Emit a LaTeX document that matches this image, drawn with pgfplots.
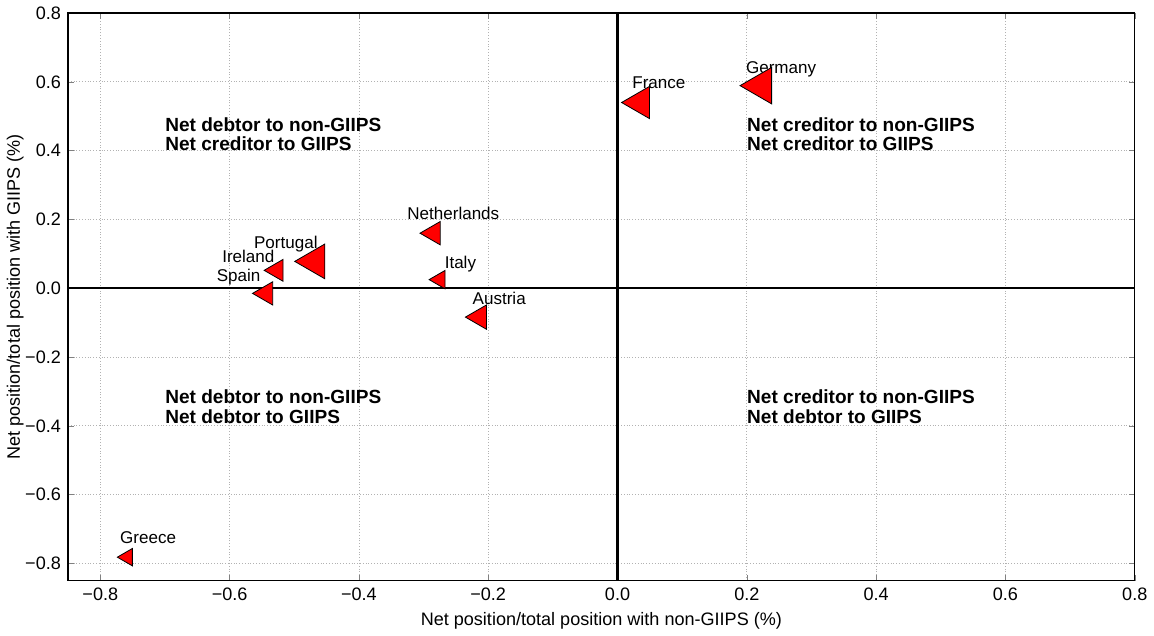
\documentclass[border=0pt]{standalone}
\usepackage{fontspec}
\setmainfont{Liberation Sans}
\usepackage{pgfplots}
\pgfplotsset{compat=1.18}

\begin{document}
\begin{tikzpicture}[x=1pt,y=1pt]

\begin{axis}[
    scale only axis,
    width=532pt, height=283pt,
    xmin=-0.85, xmax=0.8,
    ymin=-0.85, ymax=0.8,
    xtick={-0.8,-0.6,-0.4,-0.2,0,0.2,0.4,0.6,0.8},
    xticklabels={−0.8,−0.6,−0.4,−0.2,0.0,0.2,0.4,0.6,0.8},
    ytick={-0.8,-0.6,-0.4,-0.2,0,0.2,0.4,0.6,0.8},
    yticklabels={−0.8,−0.6,−0.4,−0.2,0.0,0.2,0.4,0.6,0.8},
    tick label style={font=\fontsize{9}{10}\selectfont},
    label style={font=\fontsize{9}{10}\selectfont},
    xlabel={Net position/total position with non-GIIPS (\%)},
    ylabel={Net position/total position with GIIPS (\%)},
    xlabel style={yshift=1pt},
    ylabel style={yshift=-6pt},
    grid=major,
    major grid style={gray!60, densely dotted, line width=0.4pt},
    tick align=inside,
    major tick length=3pt,
    axis line style={line width=0.6pt},
    clip=false,
]

% quadrant lines
\addplot [black, line width=1.1pt, forget plot] coordinates {(-0.85,0) (0.8,0)};
\addplot [black, line width=1.1pt, forget plot] coordinates {(0,-0.85) (0,0.8)};

% points: x y r(pt)
\addplot [only marks, mark=triangle*, mark size=10.5pt, mark options={xshift=2.6pt, rotate=90, fill=red, draw=black, line width=0.4pt}] coordinates {(0.214,0.589)};   % Germany
\addplot [only marks, mark=triangle*, mark size=9.3pt, mark options={xshift=2.3pt, rotate=90, fill=red, draw=black, line width=0.4pt}] coordinates {(0.028,0.540)};    % France
\addplot [only marks, mark=triangle*, mark size=10pt, mark options={xshift=2.5pt, rotate=90, fill=red, draw=black, line width=0.4pt}] coordinates {(-0.476,0.078)};    % Portugal
\addplot [only marks, mark=triangle*, mark size=6.3pt, mark options={xshift=1.6pt, rotate=90, fill=red, draw=black, line width=0.4pt}] coordinates {(-0.532,0.052)};   % Ireland
\addplot [only marks, mark=triangle*, mark size=6.7pt, mark options={xshift=1.7pt, rotate=90, fill=red, draw=black, line width=0.4pt}] coordinates {(-0.549,-0.015)};  % Spain
\addplot [only marks, mark=triangle*, mark size=6.7pt, mark options={xshift=1.7pt, rotate=90, fill=red, draw=black, line width=0.4pt}] coordinates {(-0.290,0.160)};   % Netherlands
\addplot [only marks, mark=triangle*, mark size=5.3pt, mark options={xshift=1.3pt, rotate=90, fill=red, draw=black, line width=0.4pt}] coordinates {(-0.279,0.025)};   % Italy
\addplot [only marks, mark=triangle*, mark size=7pt, mark options={xshift=1.75pt, rotate=90, fill=red, draw=black, line width=0.4pt}] coordinates {(-0.219,-0.084)};  % Austria
\addplot [only marks, mark=triangle*, mark size=5pt, mark options={xshift=1.25pt, rotate=90, fill=red, draw=black, line width=0.4pt}] coordinates {(-0.762,-0.782)};  % Greece

% country labels
\begin{scope}[every node/.style={font=\fontsize{8.5}{10}\selectfont, inner sep=0pt, anchor=base}]
\node at (axis cs:0.253,0.624) {Germany};
\node at (axis cs:0.064,0.581) {France};
\node at (axis cs:-0.254,0.200) {Netherlands};
\node at (axis cs:-0.513,0.116) {Portugal};
\node at (axis cs:-0.571,0.076) {Ireland};
\node at (axis cs:-0.586,0.020) {Spain};
\node at (axis cs:-0.243,0.058) {Italy};
\node at (axis cs:-0.183,-0.046) {Austria};
\node at (axis cs:-0.726,-0.743) {Greece};
\end{scope}

% quadrant captions (anchored at the baseline of the second line)
\begin{scope}[every node/.style={font=\bfseries\fontsize{9.5}{9.6}\selectfont, align=left, anchor=base west, inner sep=0pt}]
\node at (axis cs:-0.700,0.400) {Net debtor to non-GIIPS\\Net creditor to GIIPS};
\node at (axis cs:0.200,0.400) {Net creditor to non-GIIPS\\Net creditor to GIIPS};
\node at (axis cs:-0.700,-0.392) {Net debtor to non-GIIPS\\Net debtor to GIIPS};
\node at (axis cs:0.200,-0.392) {Net creditor to non-GIIPS\\Net debtor to GIIPS};
\end{scope}

\end{axis}
\end{tikzpicture}
\end{document}
